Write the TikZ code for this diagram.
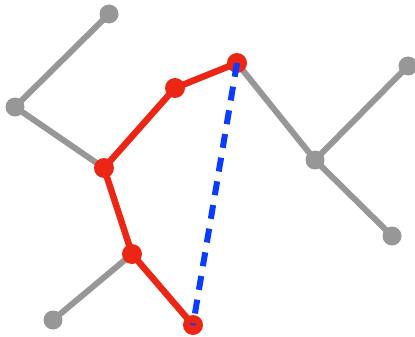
\documentclass[tikz,border=0pt]{standalone}
\usetikzlibrary{backgrounds}
\definecolor{edgegray}{HTML}{979797}
\definecolor{pathred}{HTML}{EC2614}
\definecolor{chordblue}{HTML}{0A3CFF}
\tikzset{
  graydot/.style={circle, fill=edgegray, minimum size=19pt, inner sep=0pt},
  reddot/.style={circle, fill=pathred, minimum size=20pt, inner sep=0pt},
  grayedge/.style={draw=edgegray, line width=6pt},
  rededge/.style={draw=pathred, line width=6.5pt},
  chord/.style={draw=chordblue, line width=6pt, dash pattern=on 14pt off 10pt},
}
\begin{document}
\begin{tikzpicture}[x=1pt,y=-1pt]
  \useasboundingbox (0,0) rectangle (415,337);
  % tree vertices
  \coordinate (a) at (109,14);
  \coordinate (b) at (15,107);
  \coordinate (c) at (104,168);
  \coordinate (d) at (175,88);
  \coordinate (e) at (237,63);
  \coordinate (f) at (315,160);
  \coordinate (g) at (408,66);
  \coordinate (h) at (392,236);
  \coordinate (i) at (132,254);
  \coordinate (j) at (53,320);
  \coordinate (k) at (193,325);
  % grey tree edges
  \draw[grayedge] (a) -- (b) -- (c);
  \draw[grayedge] (e) -- (f) -- (g);
  \draw[grayedge] (f) -- (h);
  \draw[grayedge] (i) -- (j);
  % red path
  \draw[rededge, line join=round] (k) -- (i) -- (c) -- (d) -- (e);
  % vertices
  \foreach \v in {a,b,f,g,h,j} \node[graydot] (n\v) at (\v) {};
  \foreach \v in {c,d,e,i,k} \node[reddot] (n\v) at (\v) {};
  % blue chord closing the cycle
  \draw[chord] (e) -- (k);
\end{tikzpicture}
\end{document}
